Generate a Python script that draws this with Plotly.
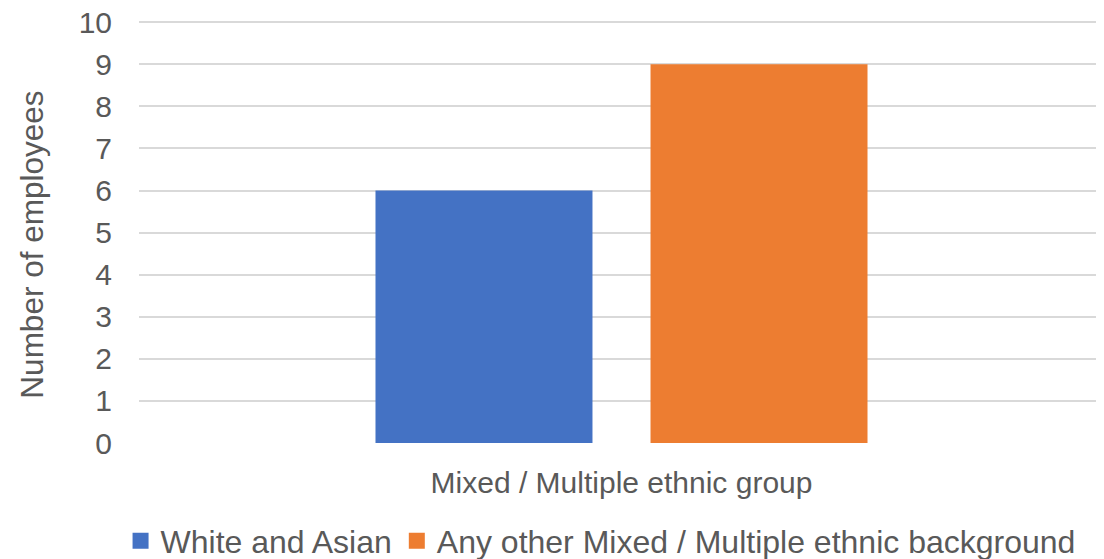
import plotly.graph_objects as go

categories = ["Mixed / Multiple ethnic group"]
series_names = ["White and Asian", "Any other Mixed / Multiple ethnic background"]
white_asian = [6]
any_other = [9]
colors = ["#4472C4", "#ED7D31"]
y_ticks = list(range(0, 11))
y_title = "Number of employees"

TEXT = "#595959"
FONT = "Liberation Sans, Arial, sans-serif"

fig = go.Figure()
for name, vals, col in zip(series_names, [white_asian, any_other], colors):
    fig.add_trace(go.Bar(x=categories, y=vals, name=name, marker_color=col,
                         marker_line_width=0, showlegend=False))
    # legend proxy with larger square swatch
    fig.add_trace(go.Scatter(x=[None], y=[None], mode="markers", name=name,
                             marker=dict(symbol="square", size=17, color=col),
                             showlegend=True))

# page has an 8px body margin, so the figure is sized to fit the window
fig.update_layout(
    width=1096, height=551,
    margin=dict(l=131, r=0, t=13, b=116, autoexpand=False),
    paper_bgcolor="white", plot_bgcolor="white",
    font=dict(family=FONT, size=30, color=TEXT),
    bargap=0.43, bargroupgap=0.211,
    barmode="group",
    legend=dict(orientation="h", xref="container", yref="paper",
                x=0.1027, xanchor="left", y=-0.232, yanchor="middle",
                font=dict(size=32, color=TEXT), itemwidth=30,
                tracegroupgap=0, bgcolor="rgba(0,0,0,0)"),
    showlegend=True,
)
fig.update_xaxes(type="category", showgrid=False, showline=False, ticks="",
                 tickfont=dict(size=30, color=TEXT), ticklabelstandoff=19,
                 zeroline=False, automargin=False)
fig.update_yaxes(range=[0, 10.03], tickvals=y_ticks, showgrid=True,
                 gridcolor="#D9D9D9", gridwidth=2, zeroline=False,
                 showline=False, ticks="", ticklabelstandoff=26,
                 ticklabeloverflow="allow",
                 tickfont=dict(size=30, color=TEXT), automargin=False)
# y-axis title as a rotated annotation for exact placement
fig.add_annotation(text=y_title, xref="paper", yref="paper",
                   x=-0.1109, y=0.47, xanchor="center", yanchor="middle",
                   textangle=-90, showarrow=False,
                   font=dict(size=31.5, color=TEXT, family=FONT))

fig.write_html("out.html")
